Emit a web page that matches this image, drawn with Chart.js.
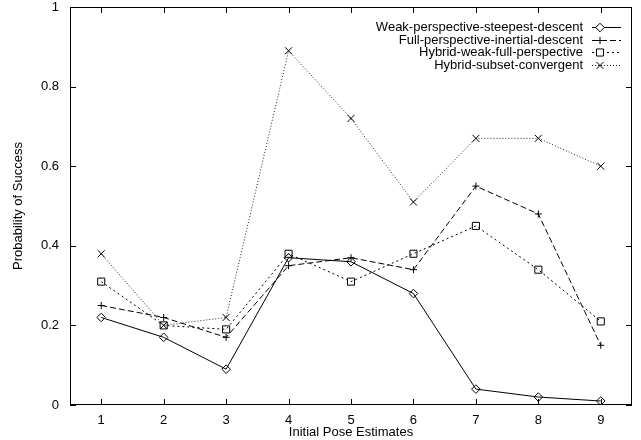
<!DOCTYPE html>
<html>
<head>
<meta charset="utf-8">
<script src="https://cdn.jsdelivr.net/npm/chart.js@4"></script>
<style>
  html, body { margin: 0; padding: 0; background: #fff; }
  #wrap { width: 641px; height: 440px; }
</style>
</head>
<body>
<div id="wrap"><canvas id="myChart" width="641" height="440"></canvas></div>
<script>
const poses = [1, 2, 3, 4, 5, 6, 7, 8, 9];
const weakSteepest = [0.22, 0.17, 0.09, 0.37, 0.36, 0.28, 0.04, 0.02, 0.01];
const fullInertial = [0.25, 0.22, 0.17, 0.35, 0.37, 0.34, 0.55, 0.48, 0.15];
const hybridWeakFull = [0.31, 0.20, 0.19, 0.38, 0.31, 0.38, 0.45, 0.34, 0.21];
const hybridSubset = [0.38, 0.20, 0.22, 0.89, 0.72, 0.51, 0.67, 0.67, 0.60];
const yTicks = [0, 0.2, 0.4, 0.6, 0.8, 1];

const FONT = 'Liberation Sans, Arial, sans-serif';
const FS = 13;

function pts(vals) {
  return poses.map((p, i) => ({ x: p, y: vals[i] }));
}

const series = [
  { label: 'Weak-perspective-steepest-descent', data: weakSteepest, dash: [], style: 'rectRot', radius: 4.3, color: '#000' },
  { label: 'Full-perspective-inertial-descent', data: fullInertial, dash: [6, 3], style: 'cross', radius: 3.5, color: '#000' },
  { label: 'Hybrid-weak-full-perspective', data: hybridWeakFull, dash: [2, 3], style: 'rect', radius: 5, color: '#000' },
  { label: 'Hybrid-subset-convergent', data: hybridSubset, dash: [1, 2], style: 'crossRot', radius: 5, color: '#222' }
];

// gnuplot-style inward ticks on all four sides plus the right-aligned key
const frameTicks = {
  id: 'frameTicks',
  afterDraw(chart) {
    const { ctx, chartArea: a, scales } = chart;
    ctx.save();
    ctx.strokeStyle = '#000';
    ctx.lineWidth = 1;
    ctx.setLineDash([]);
    ctx.beginPath();
    yTicks.forEach(v => {
      const y = Math.round(scales.y.getPixelForValue(v)) + 0.5;
      ctx.moveTo(a.left, y); ctx.lineTo(a.left + 6, y);
      ctx.moveTo(a.right, y); ctx.lineTo(a.right - 6, y);
    });
    poses.forEach(v => {
      const x = Math.round(scales.x.getPixelForValue(v)) + 0.5;
      ctx.moveTo(x, a.bottom); ctx.lineTo(x, a.bottom - 6);
      ctx.moveTo(x, a.top); ctx.lineTo(x, a.top + 6);
    });
    ctx.stroke();
    ctx.strokeRect(a.left + 0.5, a.top + 0.5, a.right - a.left - 1, a.bottom - a.top - 1);

    // key
    ctx.font = FS + 'px ' + FONT;
    ctx.textAlign = 'right';
    ctx.textBaseline = 'middle';
    chart.data.datasets.forEach((ds, i) => {
      const y = Math.round(27 + i * 12.5);
      ctx.fillStyle = '#000';
      ctx.fillText(ds.label, 583, y);
      ctx.strokeStyle = ds.borderColor;
      ctx.setLineDash(ds.borderDash);
      ctx.beginPath();
      ctx.moveTo(592, y + 0.5); ctx.lineTo(621, y + 0.5);
      ctx.stroke();
      ctx.setLineDash([]);
      ctx.strokeStyle = '#000';
      ctx.fillStyle = '#fff';
      Chart.helpers.drawPoint(ctx, { pointStyle: ds.pointStyle, radius: ds.pointRadius, borderWidth: 1 }, 600, y + 0.5);
    });
    ctx.restore();
  }
};

const ctx = document.getElementById('myChart');
new Chart(ctx, {
  type: 'line',
  data: {
    datasets: series.map(s => ({
      label: s.label,
      data: pts(s.data),
      borderColor: s.color,
      borderWidth: 1,
      borderDash: s.dash,
      pointStyle: s.style,
      pointRadius: s.radius,
      pointBorderWidth: 1,
      pointBorderColor: '#000',
      pointBackgroundColor: 'rgba(0,0,0,0)',
      tension: 0
    }))
  },
  options: {
    responsive: false,
    animation: false,
    layout: { padding: { top: 0, right: 9, left: 0, bottom: 0 } },
    plugins: {
      legend: { display: false },
      tooltip: { enabled: false }
    },
    scales: {
      x: {
        type: 'linear',
        min: 0.5,
        max: 9.5,
        afterBuildTicks: s => { s.ticks = poses.map(v => ({ value: v })); },
        grid: { display: false, drawTicks: false },
        border: { display: false },
        ticks: { color: '#000', font: { family: FONT, size: FS }, padding: 8, maxRotation: 0 },
        title: { display: true, text: 'Initial Pose Estimates', color: '#000', font: { family: FONT, size: FS }, padding: { top: -2, bottom: 0 } },
        afterFit: s => { s.height = 35; s.paddingLeft = 0; s.paddingRight = 0; }
      },
      y: {
        min: 0,
        max: 1,
        afterBuildTicks: s => { s.ticks = yTicks.map(v => ({ value: v })); },
        grid: { display: false, drawTicks: false },
        border: { display: false },
        ticks: { color: '#000', font: { family: FONT, size: FS }, padding: 11, callback: v => String(v) },
        title: { display: true, text: 'Probability of Success', color: '#000', font: { family: FONT, size: FS }, padding: { top: 11, bottom: 0 } },
        afterFit: s => { s.width = 70; s.paddingTop = 7; s.paddingBottom = 0; }
      }
    }
  },
  plugins: [frameTicks]
});
</script>
</body>
</html>
